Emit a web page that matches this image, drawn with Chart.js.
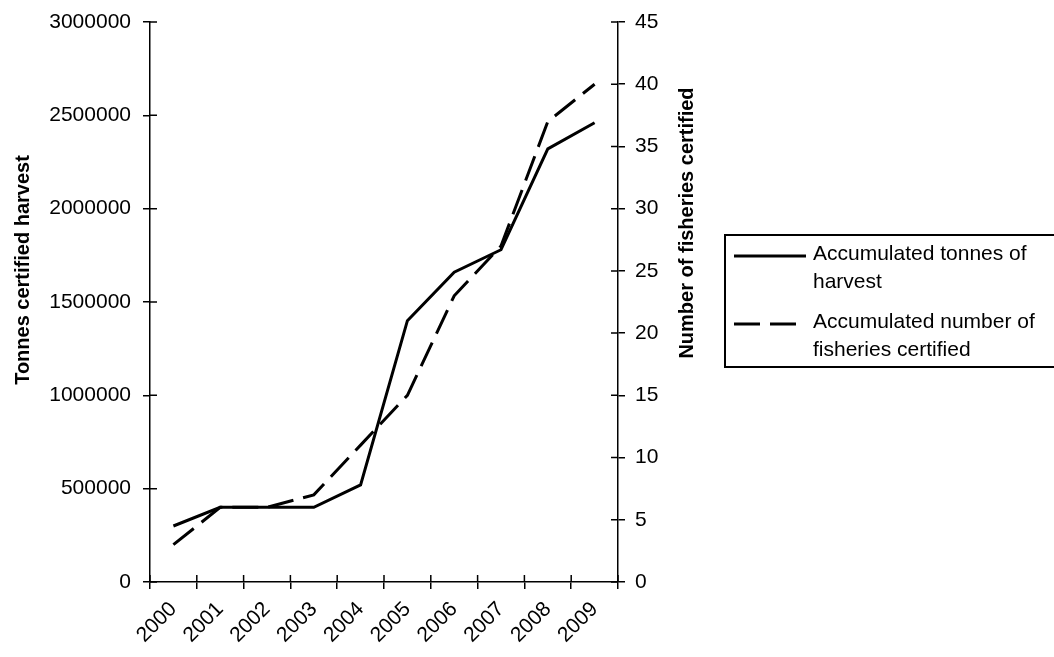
<!DOCTYPE html>
<html lang="en">
<head>
    <meta charset="UTF-8">
    <title>Certified harvest and fisheries</title>
    <script src="https://cdn.jsdelivr.net/npm/chart.js"></script>
    <style>
        body {
            margin: 0;
            background: #fff;
        }
        #chart {
            display: block;
        }
    </style>
</head>
<body>
    <canvas id="chart" width="1054" height="657"></canvas>

    <script>
        // data
        const years = ['2000', '2001', '2002', '2003', '2004', '2005', '2006', '2007', '2008', '2009'];
        const tonnes = [300000, 400000, 400000, 400000, 520000, 1400000, 1660000, 1780000, 2320000, 2460000];
        const fisheries = [3, 6, 6, 7, 11, 15, 23, 27, 37, 40];
        const seriesNames = [
            ['Accumulated tonnes of', 'harvest'],
            ['Accumulated number of', 'fisheries certified']
        ];
        const leftTitle = 'Tonnes certified harvest';
        const rightTitle = 'Number of fisheries certified';

        const FONT = 'Arial, "Liberation Sans", sans-serif';

        // ticks in the reference cross the axis line, chart.js only draws the outer half
        const innerTicks = {
            id: 'innerTicks',
            afterDraw(chart) {
                const ctx = chart.ctx;
                const a = chart.chartArea;
                const len = 7;
                ctx.save();
                ctx.strokeStyle = '#000';
                ctx.lineWidth = 1.5;
                ctx.beginPath();
                chart.scales.y.ticks.forEach((t, i) => {
                    const py = chart.scales.y.getPixelForTick(i);
                    ctx.moveTo(a.left, py);
                    ctx.lineTo(a.left + len, py);
                });
                chart.scales.y1.ticks.forEach((t, i) => {
                    const py = chart.scales.y1.getPixelForTick(i);
                    ctx.moveTo(a.right, py);
                    ctx.lineTo(a.right - len, py);
                });
                const n = chart.scales.x.ticks.length;
                const w = (a.right - a.left) / n;
                for (let i = 0; i <= n; i++) {
                    const px = a.left + i * w;
                    ctx.moveTo(px, a.bottom);
                    ctx.lineTo(px, a.bottom - len);
                }
                ctx.stroke();
                ctx.restore();
            }
        };

        // axis titles, both read bottom to top
        const axisTitles = {
            id: 'axisTitles',
            afterDraw(chart) {
                const ctx = chart.ctx;
                ctx.save();
                ctx.fillStyle = '#000';
                ctx.font = 'bold 20px ' + FONT;
                ctx.textAlign = 'center';
                ctx.textBaseline = 'middle';
                ctx.translate(23, 270);
                ctx.rotate(-Math.PI / 2);
                ctx.fillText(leftTitle, 0, 0);
                ctx.restore();

                ctx.save();
                ctx.fillStyle = '#000';
                ctx.font = 'bold 20px ' + FONT;
                ctx.textAlign = 'center';
                ctx.textBaseline = 'middle';
                ctx.translate(687, 223);
                ctx.rotate(-Math.PI / 2);
                ctx.fillText(rightTitle, 0, 0);
                ctx.restore();
            }
        };

        // boxed legend with wrapped labels, runs off the right edge like the original
        const boxLegend = {
            id: 'boxLegend',
            afterDraw(chart) {
                const ctx = chart.ctx;
                const box = { x: 725, y: 235, w: 360, h: 132 };
                ctx.save();
                ctx.strokeStyle = '#000';
                ctx.lineWidth = 2;
                ctx.strokeRect(box.x, box.y, box.w, box.h);

                ctx.font = '21px ' + FONT;
                ctx.fillStyle = '#000';
                ctx.textBaseline = 'middle';
                const firstLine = [254, 322];
                chart.data.datasets.forEach((ds, i) => {
                    const y0 = firstLine[i];
                    ctx.beginPath();
                    ctx.lineWidth = ds.borderWidth;
                    ctx.setLineDash(ds.borderDash || []);
                    ctx.moveTo(734, y0 + 2);
                    ctx.lineTo(806, y0 + 2);
                    ctx.stroke();
                    ctx.setLineDash([]);
                    seriesNames[i].forEach((line, j) => {
                        ctx.fillText(line, 813, y0 + j * 28);
                    });
                });
                ctx.restore();
            }
        };

        const tickFont = { family: FONT, size: 21 };

        new Chart(document.getElementById('chart'), {
            type: 'line',
            data: {
                labels: years,
                datasets: [{
                    label: seriesNames[0].join(' '),
                    data: tonnes,
                    yAxisID: 'y',
                    borderColor: '#000',
                    borderWidth: 3,
                    pointRadius: 0,
                    tension: 0,
                    fill: false
                }, {
                    label: seriesNames[1].join(' '),
                    data: fisheries,
                    yAxisID: 'y1',
                    borderColor: '#000',
                    borderWidth: 3,
                    borderDash: [26, 10],
                    pointRadius: 0,
                    tension: 0,
                    fill: false
                }]
            },
            options: {
                responsive: false,
                animation: false,
                layout: { padding: { top: 22, left: 0, right: 0, bottom: 0 } },
                plugins: {
                    legend: { display: false },
                    tooltip: { enabled: false }
                },
                scales: {
                    x: {
                        offset: true,
                        grid: { offset: true, drawOnChartArea: false, tickLength: 7, color: '#000', lineWidth: 1.5 },
                        border: { color: '#000', width: 1.5 },
                        ticks: { font: tickFont, color: '#000', maxRotation: 45, minRotation: 45, padding: 8, autoSkip: false },
                        afterFit(s) { s.height = 75; s.paddingLeft = 0; s.paddingRight = 0; }
                    },
                    y: {
                        position: 'left',
                        min: 0,
                        max: 3000000,
                        grid: { drawOnChartArea: false, tickLength: 7, color: '#000', lineWidth: 1.5 },
                        border: { color: '#000', width: 1.5 },
                        ticks: { stepSize: 500000, font: tickFont, color: '#000', padding: 12, callback: v => String(v) },
                        afterFit(s) { s.width = 150; s.paddingTop = 0; s.paddingBottom = 0; }
                    },
                    y1: {
                        position: 'right',
                        min: 0,
                        max: 45,
                        grid: { drawOnChartArea: false, tickLength: 7, color: '#000', lineWidth: 1.5 },
                        border: { color: '#000', width: 1.5 },
                        ticks: { stepSize: 5, font: tickFont, color: '#000', padding: 10 },
                        afterFit(s) { s.width = 436; s.paddingTop = 0; s.paddingBottom = 0; }
                    }
                }
            },
            plugins: [innerTicks, axisTitles, boxLegend]
        });
    </script>
</body>
</html>
